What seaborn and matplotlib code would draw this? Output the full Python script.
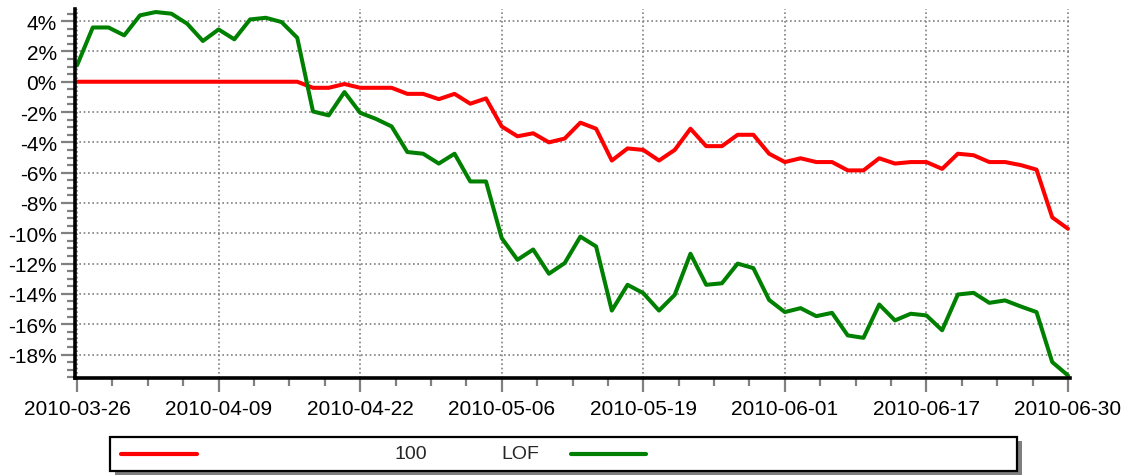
import numpy as np
import pandas as pd
import matplotlib
matplotlib.use("Agg")
import matplotlib.pyplot as plt
import matplotlib.ticker as mticker
from matplotlib.lines import Line2D
from matplotlib.patches import Rectangle
import seaborn as sns

sns.set_style("white")
plt.rcParams['font.family'] = ['Liberation Sans', 'DejaVu Sans']

# Trading days (Chinese market holidays removed)
holidays = ["2010-04-05", "2010-05-03", "2010-06-14", "2010-06-15", "2010-06-16"]
dates = pd.bdate_range("2010-03-26", "2010-06-30")
dates = dates[~dates.isin(pd.to_datetime(holidays))]
date_labels = dates.strftime("%Y-%m-%d").tolist()

series_names = ["100", "LOF"]
series_colors = ["#ff0000", "#008000"]

# cumulative return, %
ret_100 = [0, 0, 0, 0, 0, 0, 0, 0, 0, 0, 0, 0, 0, 0, 0,
           -0.4, -0.4, -0.15, -0.4, -0.4, -0.4, -0.8, -0.8, -1.15, -0.8, -1.45, -1.1,
           -2.95, -3.6, -3.4, -4.0, -3.75, -2.7, -3.1, -5.2, -4.4, -4.5, -5.2, -4.5,
           -3.1, -4.25, -4.25, -3.5, -3.5, -4.75, -5.3, -5.05, -5.3, -5.3, -5.85,
           -5.85, -5.05, -5.4, -5.3, -5.3, -5.75, -4.75, -4.85, -5.3, -5.3, -5.5,
           -5.8, -8.95, -9.7]
ret_lof = [1.08, 3.58, 3.58, 3.06, 4.38, 4.6, 4.49, 3.83, 2.69, 3.45, 2.8, 4.11,
           4.22, 3.94, 2.9, -1.96, -2.22, -0.68, -2.05, -2.45, -2.95, -4.64, -4.75,
           -5.4, -4.75, -6.58, -6.58, -10.32, -11.75, -11.07, -12.67, -11.97, -10.22,
           -10.87, -15.1, -13.4, -13.95, -15.1, -14.06, -11.35, -13.4, -13.3, -12.0,
           -12.3, -14.4, -15.2, -14.94, -15.47, -15.25, -16.74, -16.9, -14.7, -15.75,
           -15.31, -15.42, -16.4, -14.04, -13.93, -14.59, -14.43, -14.83, -15.2,
           -18.5, -19.38]

y_ticks = list(range(-18, 5, 2))
x_tick_step = 9

n = len(date_labels)
df = pd.DataFrame({
    "idx": list(range(n)) * 2,
    "ret": ret_100 + ret_lof,
    "series": [series_names[0]] * n + [series_names[1]] * n,
})

W, H = 1130, 477
fig = plt.figure(figsize=(W / 100, H / 100), dpi=100)
ax = fig.add_axes([75 / W, 1 - 379 / H, 995 / W, 369 / H])

ax.grid(True, which='major', color='#808080', linestyle=(0, (1, 1.6)), linewidth=1.2)
ax.set_axisbelow(True)

sns.lineplot(data=df, x="idx", y="ret", hue="series",
             palette=dict(zip(series_names, series_colors)),
             linewidth=2.9, legend=False, ax=ax)

ax.set_xlim(-0.13, n - 1 + 0.13)
ax.set_ylim(-19.55, 4.8)

xt = list(range(0, n, x_tick_step))
ax.set_xticks(xt)
ax.set_xticklabels([date_labels[i] for i in xt])
ax.xaxis.set_minor_locator(mticker.AutoMinorLocator(4))
ax.set_yticks(y_ticks)
ax.yaxis.set_major_formatter(mticker.FuncFormatter(lambda v, p: f"{v:.0f}%"))
ax.yaxis.set_minor_locator(mticker.AutoMinorLocator(4))

ax.tick_params(axis='both', which='major', length=10, width=1.6, color='#808080',
               labelsize=15, labelcolor='black', direction='out')
ax.tick_params(axis='both', which='minor', length=6, width=1.6, color='#808080')
ax.tick_params(axis='x', which='major', pad=5)
ax.tick_params(axis='y', which='major', pad=3)
ax.tick_params(axis='both', which='both', bottom=True, left=True)
ax.set_xlabel("")
ax.set_ylabel("")

for s in ['top', 'right']:
    ax.spines[s].set_visible(False)
for s in ['left', 'bottom']:
    ax.spines[s].set_color('black')
    ax.spines[s].set_linewidth(2.6)

# legend box with shadow
bx0, bx1, by0, by1 = 110, 1017, 438, 472
fig.add_artist(Rectangle(((bx0 + 5) / W, 1 - (by1 + 4) / H), (bx1 - bx0) / W, (by1 - by0) / H,
                         transform=fig.transFigure, facecolor='#7f7f7f', edgecolor='none'))
fig.add_artist(Rectangle((bx0 / W, 1 - by1 / H), (bx1 - bx0) / W, (by1 - by0) / H,
                         transform=fig.transFigure, facecolor='white', edgecolor='black',
                         linewidth=1.6))
ly = 1 - 455 / H
fig.add_artist(Line2D([121 / W, 197 / W], [ly, ly], transform=fig.transFigure,
                      color=series_colors[0], linewidth=3, solid_capstyle='round'))
fig.add_artist(Line2D([571 / W, 646 / W], [ly, ly], transform=fig.transFigure,
                      color=series_colors[1], linewidth=3, solid_capstyle='round'))
fig.text(411 / W, ly, series_names[0], ha='center', va='center', fontsize=14)
fig.text(520 / W, ly, series_names[1], ha='center', va='center', fontsize=14)

fig.savefig("out.png", dpi=100)
